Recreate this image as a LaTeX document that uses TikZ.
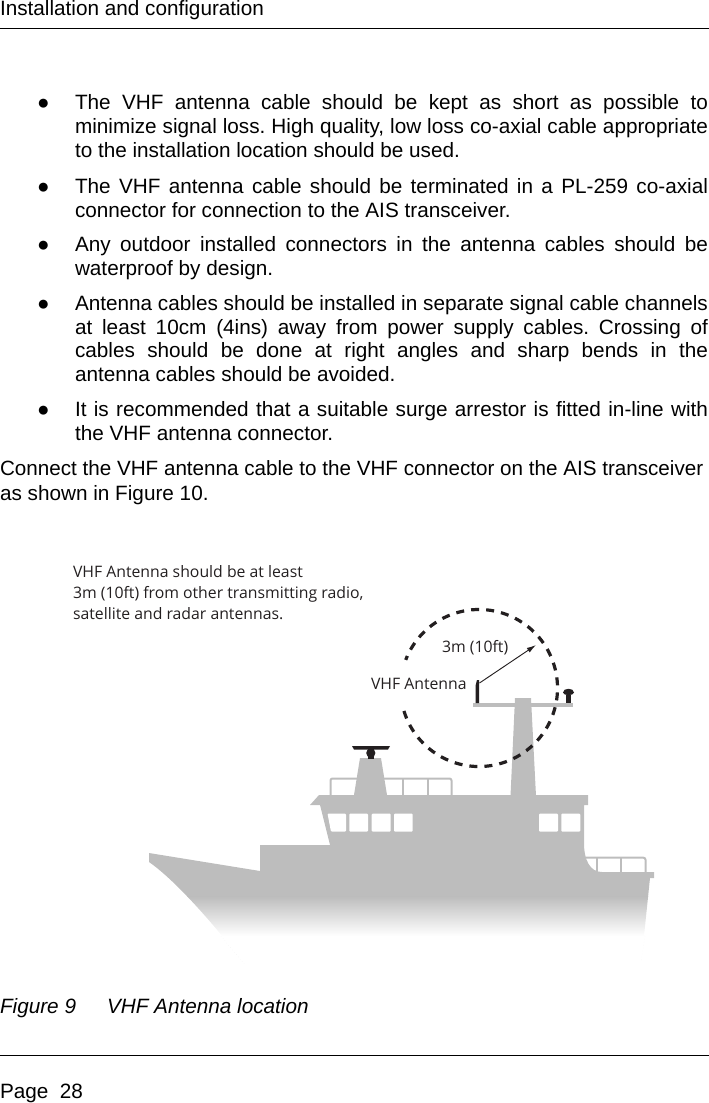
\documentclass[tikz,border=0pt]{standalone}
\usepackage{fontspec}
\usetikzlibrary{arrows.meta}
\setmainfont{Liberation Sans}
\newfontfamily\figfont{Open Sans}
\definecolor{shipgray}{HTML}{BDBDBD}
\definecolor{inkdark}{HTML}{231F20}
\newcommand{\bodysize}{\fontsize{15.55}{18}\selectfont}
\newcommand{\jline}[1]{\hbox to 474.75pt{\frenchspacing\spaceskip=0.278em plus 1fil minus 0.1em\relax #1}}
\tikzset{
  txt/.style={anchor=base west,inner sep=0pt,outer sep=0pt,font=\bodysize\frenchspacing,text=black},
  figtxt/.style={anchor=base west,inner sep=0pt,outer sep=0pt,font=\figfont\fontsize{11.85}{14}\selectfont,text=inkdark},
  rail/.style={draw=shipgray,line width=1.5pt,line join=round},
  win/.style={fill=white,rounded corners=0.8pt},
  rulebar/.style={line width=0.6pt,black}
}
\begin{document}
\begin{tikzpicture}[x=0.75pt,y=-0.75pt]
\useasboundingbox (0,0) rectangle (709,1103);
\node[txt] (head) at (0,15) {Installation and configuration};
\coordinate (r1a) at (0,28.5); \coordinate (r1b) at (709,28.5);
\draw[rulebar] (r1a) -- (r1b);
% bullets
\foreach \n/\y in {b1/109.5,b2/193,b3/251,b4/310,b5/416}{
  \node[txt] (\n) at (37,\y) {●};
}
\node[txt] (l1) at (75,109.5) {\jline{The VHF antenna cable should be kept as short as possible to}};
\node[txt] (l2) at (75,133.5) {\jline{minimize signal loss. High quality, low loss co-axial cable appropriate}};
\node[txt] (l3) at (75,157.5) {to the installation location should be used.};
\node[txt] (l4) at (75,193) {\jline{The VHF antenna cable should be terminated in a PL-259 co-axial}};
\node[txt] (l5) at (75,217) {connector for connection to the AIS transceiver.};
\node[txt] (l6) at (75,251) {\jline{Any outdoor installed connectors in the antenna cables should be}};
\node[txt] (l7) at (75,275) {waterproof by design.};
\node[txt] (l8) at (75,310) {\jline{Antenna cables should be installed in separate signal cable channels}};
\node[txt] (l9) at (75,334) {\jline{at least 10cm (4ins) away from power supply cables. Crossing of}};
\node[txt] (l10) at (75,357) {\jline{cables should be done at right angles and sharp bends in the}};
\node[txt] (l11) at (75,381) {antenna cables should be avoided.};
\node[txt] (l12) at (75,416) {\jline{It is recommended that a suitable surge arrestor is fitted in-line with}};
\node[txt] (l13) at (75,440) {the VHF antenna connector.};
\node[txt,font=\fontsize{15.48}{18}\selectfont] (l14) at (0,475.5) {Connect the VHF antenna cable to the VHF connector on the AIS transceiver};
\node[txt] (l15) at (0,500) {as shown in Figure 10.};
% ship hull with fade
\begin{scope}
\clip (149,853) -- (260,871) -- (260,845) -- (330,845) -- (320,805) -- (310,805) -- (319,795)
  -- (588,795) -- (588,805) -- (584,805) -- (584,843) .. controls (584,860) and (590,872) .. (602,872)
  -- (654,872) -- (654,878) -- (650,878) -- (641,965) -- (245,965)
  .. controls (215,925) and (175,880) .. (149,862) -- cycle;
\fill[shipgray] (140,790) rectangle (660,897);
\shade[top color=shipgray,bottom color=white] (140,896.5) rectangle (660,936);
\end{scope}
\draw[shipgray!35,line width=0.25pt,dotted] (221,936) -- (245,965);
\draw[shipgray!25,line width=0.25pt,dotted] (645,936) -- (641,962);
% windows
\fill[win] (327.5,813.5) -- (346,813.5) -- (346,831.7) -- (331,831.7) -- cycle;
\foreach \xa/\xb in {349.3/368,371.7/390.7,394/412.7,539/558,561.3/580.3}{
  \fill[win] (\xa,813.5) rectangle (\xb,831.7);
}
% railings
\draw[rail,rounded corners=1.5pt] (330.5,795) -- (330.5,778.5) -- (451.5,778.5) -- (451.5,795);
\draw[rail] (403,778.5) -- (403,795) (428,778.5) -- (428,795);
\draw[rail,rounded corners=1.5pt] (586,857.7) -- (645.5,857.7) -- (645.5,872);
\draw[rail] (596.5,857.7) -- (596.5,872) (621,857.7) -- (621,872);
% funnel and mast
\fill[shipgray] (360,758) -- (381,758) -- (387,795) -- (354,795) -- cycle;
\fill[shipgray] (515,698) -- (531,698) -- (536,796) -- (510.5,796) -- cycle;
\fill[shipgray] (473,703) rectangle (573,707);
% radar
\fill[inkdark] (352,746) -- (390,746) -- (388,749.5) -- (354,749.5) -- cycle;
\fill[inkdark] (370.8,753) circle (4.6);
\fill[inkdark] (368,749) rectangle (373.5,758.5);
% antennas
\fill[inkdark] (475.7,703) -- (475.7,685) -- (477,680) -- (479,680) -- (479,703) -- cycle;
\fill[inkdark] (565.7,695) rectangle (571,703);
\fill[inkdark] (563,692.5) .. controls (563,687.5) and (574,687.5) .. (574,692.5) .. controls (574,696) and (563,696) .. (563,692.5) -- cycle;
% circle
\coordinate (cc) at (479,688);
\draw[inkdark,line width=2.4pt,dash pattern=on 6pt off 5.3pt] (cc) ++(-197:78.5) arc[start angle=-197,end angle=-519,radius=78.5];
% arrow
\coordinate (tip) at (479.5,683); \coordinate (rend) at (536,645);
\draw[inkdark,line width=0.7pt,-{Latex[length=7pt,width=4pt]}] (tip) -- (rend);
% labels
\node[figtxt] (ft1) at (73,577) {VHF Antenna should be at least};
\node[figtxt] (ft2) at (73,598) {3m (10ft) from other transmitting radio,};
\node[figtxt] (ft3) at (73,619.5) {satellite and radar antennas.};
\node[figtxt] (ft4) at (442,652) {3m (10ft)};
\node[figtxt] (ft5) at (371,689) {VHF Antenna};
% caption and footer
\node[txt,font=\bodysize\itshape] (cap) at (0,1013) {Figure 9};
\node[txt,font=\bodysize\itshape] (captext) at (107,1013) {VHF Antenna location};
\coordinate (r2a) at (0,1055.5); \coordinate (r2b) at (709,1055.5);
\draw[rulebar] (r2a) -- (r2b);
\node[txt] (foot) at (0,1098) {Page\ \ 28};
\end{tikzpicture}
\end{document}
